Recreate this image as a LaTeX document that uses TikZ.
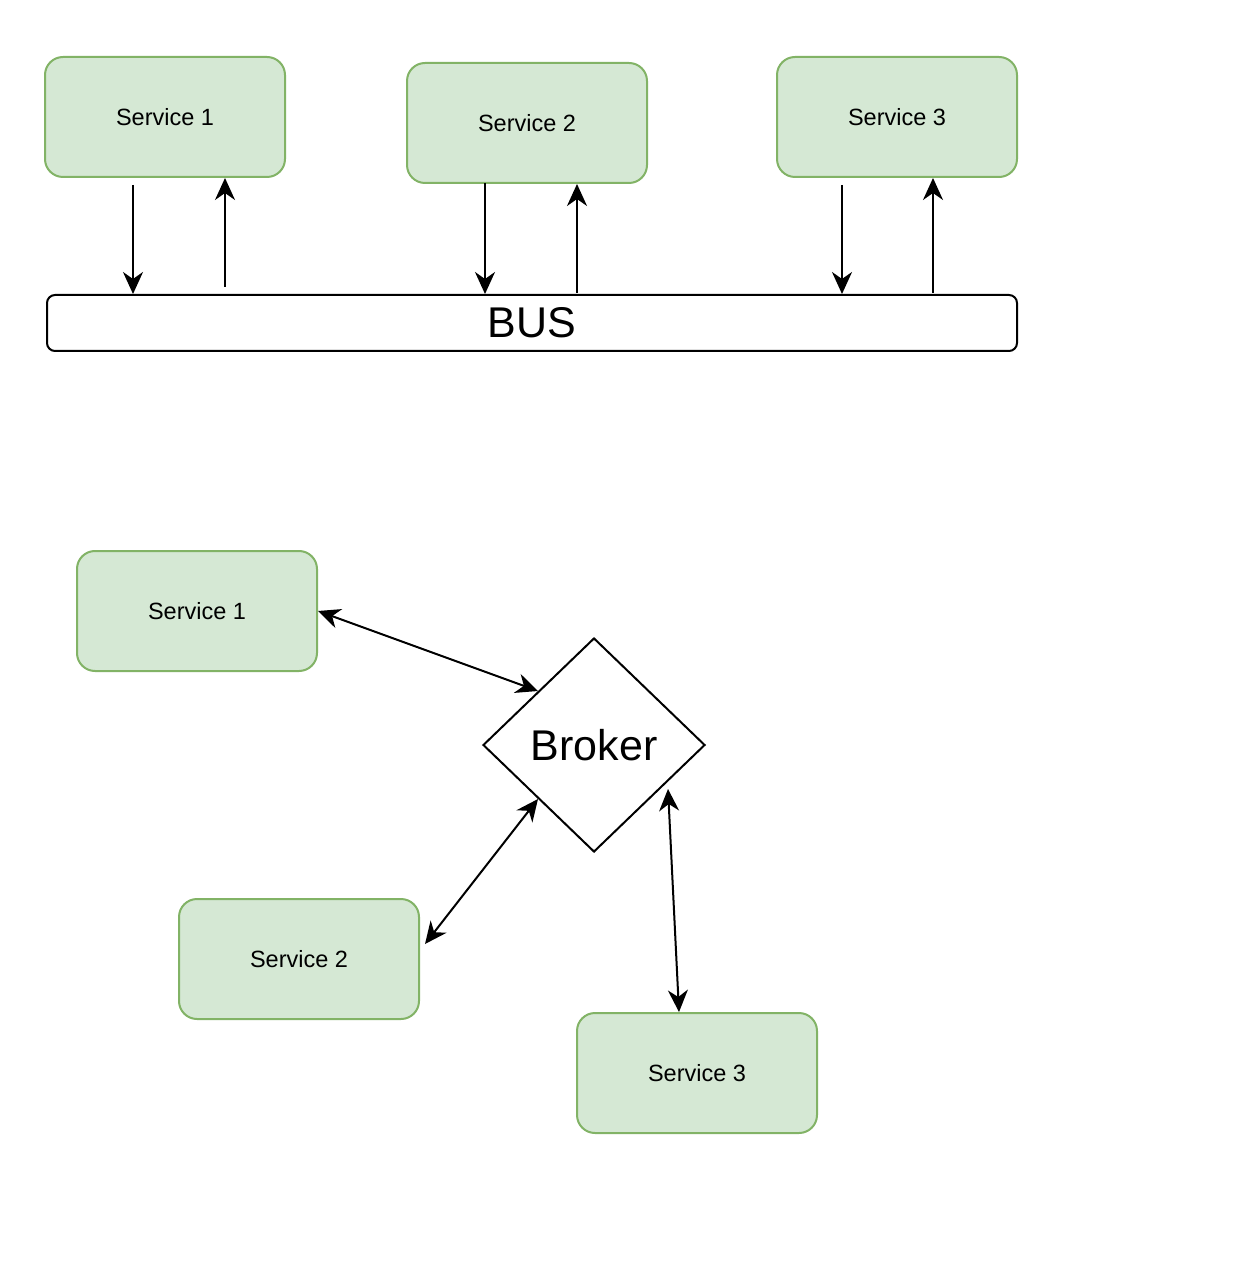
\documentclass[tikz,border=0pt]{standalone}
\usepackage{fontspec}
\setmainfont{Liberation Sans}
\usetikzlibrary{shapes.geometric,arrows.meta}
\definecolor{svcfill}{HTML}{D5E8D4}
\definecolor{svcdraw}{HTML}{82B366}
\tikzstyle{service}=[rectangle,rounded corners=9pt,draw=svcdraw,fill=svcfill,line width=1pt,
  minimum width=120pt,minimum height=60pt,font=\fontsize{11.75}{14}\selectfont]
\tikzstyle{busbar}=[rectangle,rounded corners=4pt,draw=black,line width=1pt,
  minimum width=485pt,minimum height=28pt,font=\fontsize{21.5}{24}\selectfont]
\tikzstyle{hub}=[diamond,draw=black,line width=1pt,inner sep=0pt,
  minimum width=111pt,minimum height=107pt,font=\fontsize{21.5}{24}\selectfont]
\tikzstyle{flow}=[-{Stealth[length=11pt,width=10pt,inset=3.5pt]},line width=1pt]
\tikzstyle{both}=[{Stealth[length=11pt,width=10pt,inset=3.5pt]}-{Stealth[length=11pt,width=10pt,inset=3.5pt]},line width=1pt]

\begin{document}
\begin{tikzpicture}[x=0.5pt,y=-0.5pt]
  \useasboundingbox (0,0) rectangle (1247,1272);

  % bus layout
  \node[service] (top 1) at (165,117) {Service 1};
  \node[service] (top 2) at (527,123) {Service 2};
  \node[service] (top 3) at (897,117) {Service 3};
  \node[busbar] (bus) at (532,323) {BUS};

  \foreach \n/\down/\gap/\up/\lift in {1/-32/7/60/7, 2/-42/-1/50/1, 3/-55/7/36/1} {
    \draw[flow] ([shift={(\down,\gap)}]top \n.south)
      -- ([shift={(\down,0)}]top \n.south |- bus.north);
    \draw[flow] ([shift={(\up,-\lift)}]top \n.south |- bus.north)
      -- ([shift={(\up,0)}]top \n.south);
  }

  % broker layout
  \node[service] (bottom 1) at (197,611) {Service 1};
  \node[hub] (broker) at (594,745) {Broker};
  \node[service] (bottom 2) at (299,959) {Service 2};
  \node[service] (bottom 3) at (697,1073) {Service 3};

  \draw[both] (bottom 1.east) -- (broker.north west);
  \draw[both] ([shift={(5,-15)}]bottom 2.east) -- (broker.south west);
  \draw[both] ([shift={(-18,0)}]bottom 3.north) -- ([shift={(18,-10)}]broker.south east);
\end{tikzpicture}
\end{document}
